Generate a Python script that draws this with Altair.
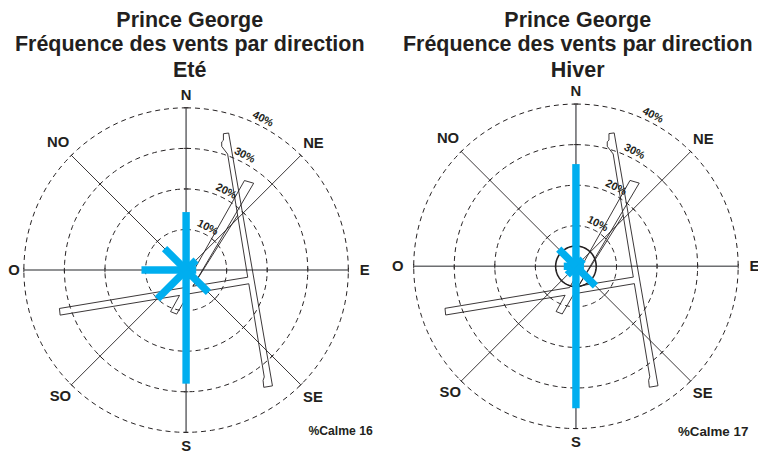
import math
import altair as alt
import pandas as pd

# ---------------- data ----------------
directions = ["N", "NE", "E", "SE", "S", "SO", "O", "NO"]
bearings = [0, 45, 90, 135, 180, 225, 270, 315]
freq_ete = [14.3, 3.5, 2.5, 7.8, 28.0, 10.0, 11.0, 7.5]
freq_hiver = [25.2, 2.5, 2.0, 6.8, 35.0, 3.0, 3.0, 6.0]
seasons = ["Eté", "Hiver"]
calme = [16, 17]
calm_circle = [0.0, 5.0]
ring_levels = [10, 20, 30, 40]
ring_labels = ["10%", "20%", "30%", "40%"]
station = "Prince George"
subtitle = "Fréquence des vents par direction"

# airport runway outline, in % units relative to the rose centre
runway_paths = [
    [(15.46, -3.37), (19.27, -26.34), (18.98, -27.20), (19.15, -28.90), (21.29, -28.54),
     (10.49, 33.78), (9.20, 33.61), (9.20, 32.00), (8.78, 31.59), (8.78, 30.49),
     (10.24, 28.59), (15.20, -1.76)],
    [(15.20, -1.76), (1.68, -3.98)],
    [(-0.51, -4.34), (-31.22, -9.46), (-31.05, -11.10), (-1.61, -6.24)],
    [(0.56, -5.88), (15.46, -3.37)],
    [(-1.61, -6.24), (-3.83, -10.24), (-2.32, -10.85), (0.56, -5.88)],
    [(-0.51, -4.34), (14.39, 22.07), (16.66, 21.41), (1.68, -3.98)],
    [(1.68, -3.98), (12.71, 13.54)],
]

# ---------------- layout ----------------
W, H = 758, 447
XDOM = [-43.90, 140.98]
YDOM = [-45.0, 64.02]
centers = [(0.0, 0.0), (96.10, 0.93)]
runway_shift = [(0.0, 0.0), (-1.06, -0.90)]
label_r = [43.2, 44.4, 44.0, 44.2, 43.4, 43.8, 43.9, 44.6]
ring_label_bearing = 27
calm_pos = [(46.0, -40.7), (42.5, -41.9)]
calm_size = [12.3, 13.5]
title_dx = [0.9, 0.44]
title_y = [59.93, 54.02, 47.63]   # absolute baselines (same for both panels)
INK = "#231f20"
BLUE = "#00aeef"


def pol(cx, cy, r, b):
    a = math.radians(b)
    return cx + r * math.sin(a), cy + r * math.cos(a)


freqs = [freq_ete, freq_hiver]
rings, spokes, ticks, bars, runway, calm_c, dlabels, rlabels, ctext, titles = ([] for _ in range(10))
for p, (cx, cy) in enumerate(centers):
    for r in ring_levels:
        for i, b in enumerate(range(0, 361, 3)):
            x, y = pol(cx, cy, r, b)
            rings.append({"x": x, "y": y, "k": f"{p}-{r}", "o": i})
    if calm_circle[p] > 0:
        for i, b in enumerate(range(0, 361, 3)):
            x, y = pol(cx, cy, calm_circle[p], b)
            calm_c.append({"x": x, "y": y, "o": i})
    for d, b in enumerate(bearings):
        x2, y2 = pol(cx, cy, ring_levels[-1], b)
        spokes.append({"x": cx, "y": cy, "x2": x2, "y2": y2,
                       "card": "c" if b % 90 == 0 else "d"})
        a = math.radians(b)
        for r in ring_levels:
            px, py = pol(cx, cy, r, b)
            h = 0.55
            ticks.append({"x": px - h * math.cos(a), "y": py + h * math.sin(a),
                          "x2": px + h * math.cos(a), "y2": py - h * math.sin(a)})
        bx, by = pol(cx, cy, freqs[p][d], b)
        bars.append({"x": cx, "y": cy, "x2": bx, "y2": by, "dir": directions[d],
                     "freq": freqs[p][d]})
        lx, ly = pol(cx, cy, label_r[d], b)
        lx = max(lx, XDOM[0] + 1.5)
        dlabels.append({"x": lx, "y": ly, "t": directions[d]})
    for r, lab in zip(ring_levels, ring_labels):
        x, y = pol(cx, cy, r + 1.7, ring_label_bearing)
        rlabels.append({"x": x, "y": y, "t": lab})
    sx, sy = runway_shift[p]
    for k, path in enumerate(runway_paths):
        for i, (u, v) in enumerate(path):
            runway.append({"x": cx + sx + u, "y": cy + sy + v, "k": f"{p}-{k}", "o": i})
    ctext.append({"x": cx + calm_pos[p][0], "y": cy + calm_pos[p][1],
                  "t": f"%Calme {calme[p]}", "s": calm_size[p]})
    for line, v in zip([station, subtitle, seasons[p]], title_y):
        titles.append({"x": cx + title_dx[p], "y": v, "t": line})

xs = alt.Scale(domain=XDOM, nice=False, zero=False)
ys = alt.Scale(domain=YDOM, nice=False, zero=False)
X = lambda f="x": alt.X(f"{f}:Q", scale=xs, axis=None)
Y = lambda f="y": alt.Y(f"{f}:Q", scale=ys, axis=None)

ring_layer = alt.Chart(pd.DataFrame(rings)).mark_line(
    color=INK, strokeWidth=1, strokeDash=[5, 4]).encode(
    x=X(), y=Y(), detail="k:N", order="o:Q")

sp = pd.DataFrame(spokes)
spoke_c = alt.Chart(sp[sp.card == "c"]).mark_rule(color="#6d6e71", strokeWidth=1.6).encode(
    x=X(), y=Y(), x2="x2:Q", y2="y2:Q")
spoke_d = alt.Chart(sp[sp.card == "d"]).mark_rule(color=INK, strokeWidth=0.9).encode(
    x=X(), y=Y(), x2="x2:Q", y2="y2:Q")
tick_layer = alt.Chart(pd.DataFrame(ticks)).mark_rule(color=INK, strokeWidth=0.9).encode(
    x=X(), y=Y(), x2="x2:Q", y2="y2:Q")

runway_layer = alt.Chart(pd.DataFrame(runway)).mark_line(
    color=INK, strokeWidth=0.9).encode(x=X(), y=Y(), detail="k:N", order="o:Q")

calm_layer = alt.Chart(pd.DataFrame(calm_c)).mark_line(
    color=INK, strokeWidth=1.6).encode(x=X(), y=Y(), order="o:Q")

bar_layer = alt.Chart(pd.DataFrame(bars)).mark_rule(
    color=BLUE, strokeWidth=7.5, strokeCap="butt").encode(
    x=X(), y=Y(), x2="x2:Q", y2="y2:Q")

dlab_layer = alt.Chart(pd.DataFrame(dlabels)).mark_text(
    font="Liberation Sans", fontSize=15, fontWeight="bold", color=INK,
    align="center", baseline="middle").encode(x=X(), y=Y(), text="t:N")

rlab_layer = alt.Chart(pd.DataFrame(rlabels)).mark_text(
    font="Liberation Sans", fontSize=11, fontWeight="bold", color=INK,
    angle=ring_label_bearing, align="center", baseline="middle").encode(
    x=X(), y=Y(), text="t:N")

ctext_layer = alt.Chart(pd.DataFrame(ctext)).mark_text(
    font="Liberation Sans", fontWeight="bold", color=INK,
    align="right", baseline="alphabetic").encode(
    x=X(), y=Y(), text="t:N", size=alt.Size("s:Q", scale=None, legend=None))

title_layer = alt.Chart(pd.DataFrame(titles)).mark_text(
    font="Liberation Sans", fontSize=21.7, fontWeight="bold", color=INK,
    align="center", baseline="alphabetic").encode(x=X(), y=Y(), text="t:N")

chart = alt.layer(
    ring_layer, spoke_c, spoke_d, tick_layer, runway_layer, calm_layer, bar_layer,
    dlab_layer, rlab_layer, ctext_layer, title_layer
).properties(
    width=W, height=H, padding=0, autosize=alt.AutoSizeParams(type="none")
).configure_view(strokeWidth=0)

chart.save("out.html", embed_options={"renderer": "svg", "actions": False})
